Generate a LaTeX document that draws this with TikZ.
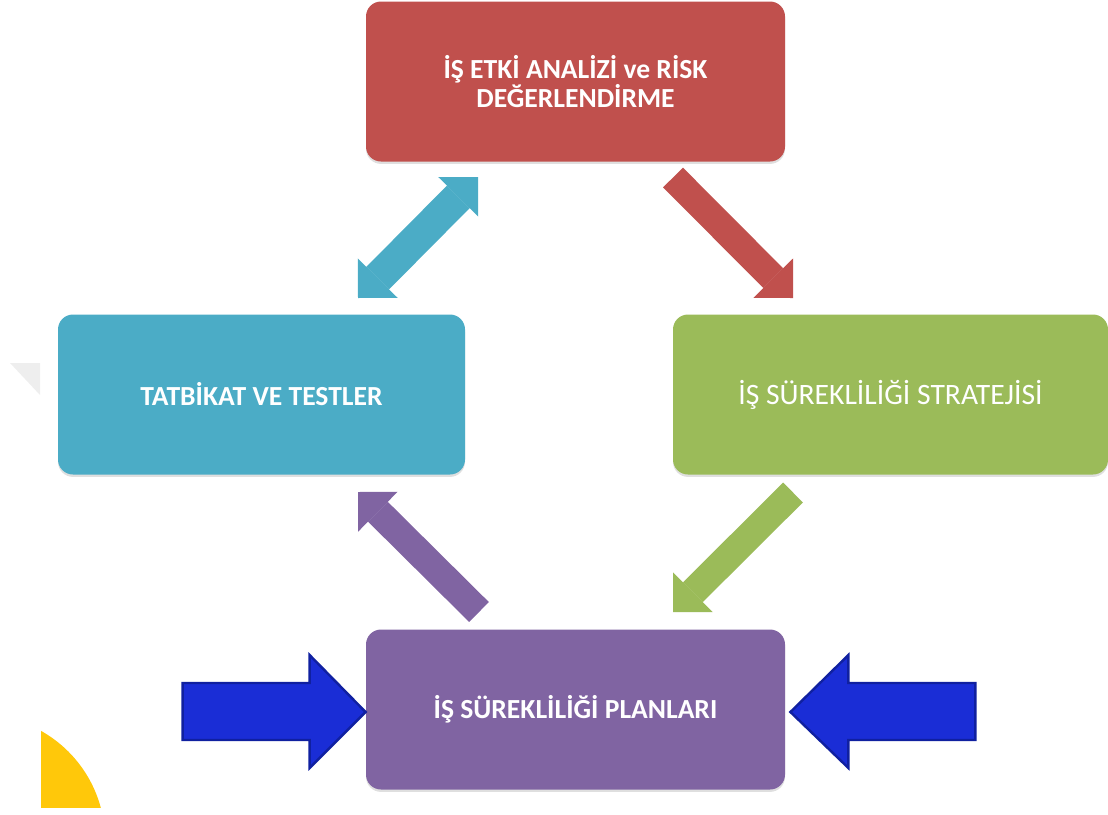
\documentclass[tikz,border=0pt]{standalone}
\usepackage{fontspec}
\setmainfont{Carlito}
\usetikzlibrary{arrows.meta,calc,shadows}

\definecolor{boxred}{HTML}{C0504D}
\definecolor{boxcyan}{HTML}{4BACC6}
\definecolor{boxgreen}{HTML}{9BBB59}
\definecolor{boxpurple}{HTML}{8064A2}
\definecolor{pushblue}{HTML}{1A2DD6}
\definecolor{pushedge}{HTML}{1020A0}
\definecolor{sunyellow}{HTML}{FFC80A}
\definecolor{paleshade}{HTML}{EEEEEE}

\begin{document}
\begin{tikzpicture}[x=0.5pt,y=-0.5pt,
  stagebox/.style={rounded corners=7.5pt, minimum width=209.5pt, minimum height=80pt,
    text=white, align=center, inner sep=0pt, font=\fontsize{13.8}{14.6}\selectfont\bfseries,
    drop shadow={shadow xshift=0pt, shadow yshift=-1.2pt, opacity=0.25}},
  flowarrow/.style={line width=14pt, -{Triangle[length=14pt,width=28pt,line width=0pt]}},
  twoway/.style={line width=16pt, {Triangle[length=14pt,width=28pt,line width=0pt]}-{Triangle[length=14pt,width=28pt,line width=0pt]}},
  pusharrow/.style={fill=pushblue, draw=pushedge, line width=1.2pt, line join=miter}]

\useasboundingbox (0,0) rectangle (1108,814);

% decorative shapes at the left edge
\begin{scope}
  \clip (41,0) rectangle (1108,807);
  \fill[sunyellow] (-20,840) circle[radius=125];
\end{scope}
\fill[paleshade] (10,363) -- (40,363) -- (40,395) -- cycle;

% the four stages of the cycle
\node[stagebox, fill=boxred]    (risk)     at (575.5,81.5) {İŞ ETKİ ANALİZİ ve RİSK\\DEĞERLENDİRME};
\node[stagebox, fill=boxcyan, minimum width=203.5pt]   (test)     at (261.5,394.5) {TATBİKAT VE TESTLER};
\node[stagebox, fill=boxgreen, minimum width=217.5pt, font=\fontsize{14.8}{15}\selectfont]  (strategy) at (890.5,394.5) {İŞ SÜREKLİLİĞİ STRATEJİSİ};
\node[stagebox, fill=boxpurple] (plan)     at (575.5,709.5) {İŞ SÜREKLİLİĞİ PLANLARI};

% end points of the diagonal arrows
\coordinate (riskOut)   at (673,177.5);
\coordinate (stratIn)   at (793,298);
\coordinate (stratOut)  at (793,492.5);
\coordinate (planIn)    at (673,612);
\coordinate (planOut)   at (479,612);
\coordinate (testIn)    at (358,492);
\coordinate (testEnd)   at (358,298);
\coordinate (riskEnd)   at (478,177);

\draw[flowarrow, draw=boxred]    (riskOut)  -- (stratIn);
\draw[flowarrow, draw=boxgreen]  (stratOut) -- (planIn);
\draw[flowarrow, draw=boxpurple] (planOut)  -- (testIn);
\draw[twoway,    draw=boxcyan]   (testEnd)  -- (riskEnd);

% block arrows pushing into the plans box
\draw[pusharrow] ($(plan.west)+(0,2.5)$) -- ++(-56,-57) -- ++(0,28) -- ++(-127,0)
  -- ++(0,57) -- ++(127,0) -- ++(0,28) -- cycle;
\draw[pusharrow] ($(plan.east)+(5,2.5)$) -- ++(58,-57) -- ++(0,28) -- ++(127,0)
  -- ++(0,57) -- ++(-127,0) -- ++(0,28) -- cycle;

\end{tikzpicture}
\end{document}
